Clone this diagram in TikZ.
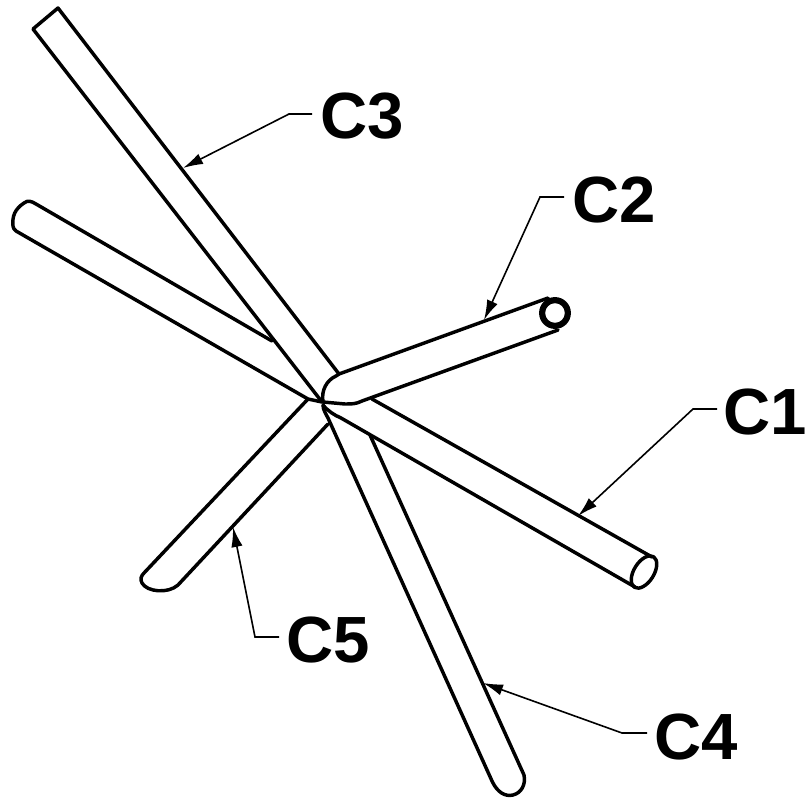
\documentclass[tikz,border=0pt]{standalone}
\usepackage{fontspec}
\setmainfont{Liberation Sans}
\usetikzlibrary{arrows.meta}
\tikzset{
  tube/.style={draw=black,line width=2.6pt,line cap=round,line join=round},
  leader/.style={draw=black,line width=1.2pt,-{Latex[length=15pt,width=8.5pt]}},
  lab/.style={anchor=base west,inner sep=0pt,outer sep=0pt,font=\fontsize{49}{49}\selectfont\bfseries}
}
\begin{document}
\begin{tikzpicture}[x=0.75pt,y=-0.75pt]
\useasboundingbox (0,0) rectangle (807,800);
% C3 tube
\draw[tube] (322,402) -- (33,29) -- (58,8) -- (339,374);
% left tube
\draw[tube] (272,341) -- (36,204) .. controls (31,201) and (28,200) .. (24,203) .. controls (15,209) and (12,216) .. (13,226) .. controls (13,228) and (14,229) .. (16,231) -- (308,399) -- (322,402);
% C2 tube
\draw[tube] (548,298) -- (339,374) -- (336,376) .. controls (327,380) and (321,390) .. (323,402) -- (345,404) .. controls (352,404) and (356,404) .. (362,401) -- (558,330);
\draw[tube] (555,313) circle[radius=14.2];
\draw[tube] (555,313) circle[radius=11.6];
% C1 tube
\draw[tube] (372,399) -- (652,557);
\draw[tube] (323,405) .. controls (328,411) and (334,415) .. (341,418) -- (635,587);
\draw[tube] (644,572) ellipse[x radius=18,y radius=10,rotate=58];
% C5 tube
\draw[tube] (308,399) -- (144,573) .. controls (141,576) and (140,579) .. (142,583) .. controls (147,592) and (168,594) .. (178,585) -- (328,424);
% C4 tube
\draw[tube] (323,405) .. controls (323,410) and (326,414) .. (328,418) -- (492,781) .. controls (497,792) and (505,797) .. (513,795) .. controls (521,793) and (526,785) .. (524,775) -- (370,435);
% leaders
\coordinate (c3a) at (312,114); \coordinate (c3b) at (289,114); \coordinate (c3t) at (183,168);
\coordinate (c2a) at (564,197); \coordinate (c2b) at (540,197); \coordinate (c2t) at (484,320);
\coordinate (c1a) at (717,409); \coordinate (c1b) at (693,409); \coordinate (c1t) at (578,516);
\coordinate (c5a) at (279,637); \coordinate (c5b) at (255,637); \coordinate (c5t) at (233,527);
\coordinate (c4a) at (647,733); \coordinate (c4b) at (622,733); \coordinate (c4t) at (483,683);
\draw[leader] (c3a) -- (c3b) -- (c3t);
\draw[leader] (c2a) -- (c2b) -- (c2t);
\draw[leader] (c1a) -- (c1b) -- (c1t);
\draw[leader] (c5a) -- (c5b) -- (c5t);
\draw[leader] (c4a) -- (c4b) -- (c4t);
% labels
\node[lab] (l3) at (320,138.5) {C3};
\node[lab] (l2) at (572,222) {C2};
\node[lab] (l1) at (723,434) {C1};
\node[lab] (l5) at (286,662) {C5};
\node[lab] (l4) at (654,759) {C4};
\end{tikzpicture}
\end{document}
